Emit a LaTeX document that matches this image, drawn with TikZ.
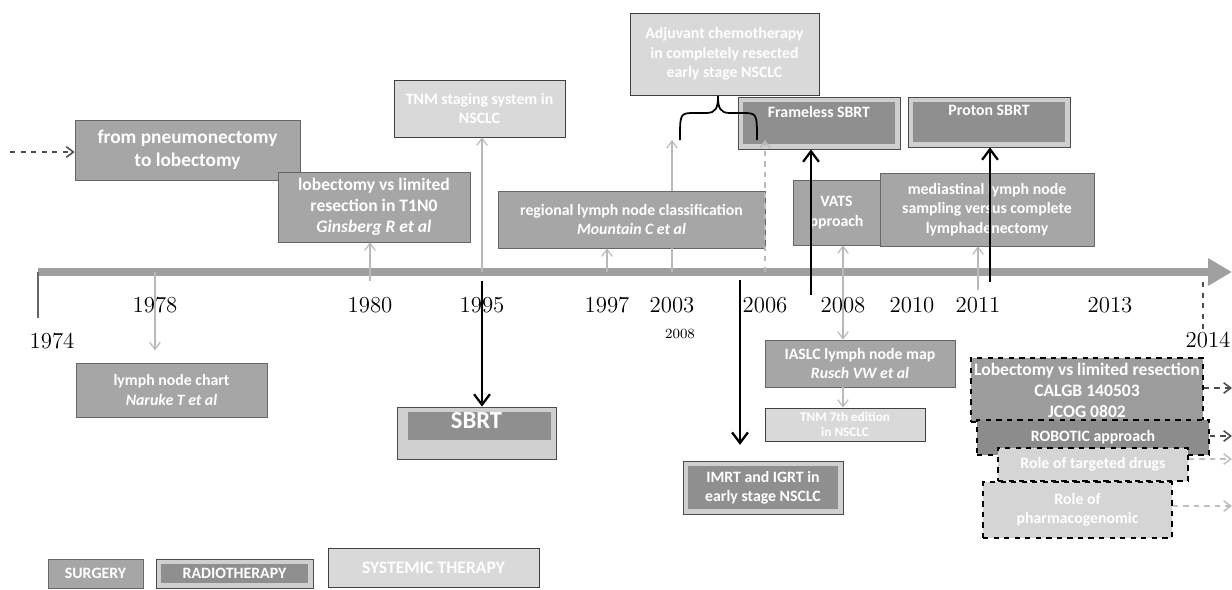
\documentclass[tikz,border=0pt]{standalone}
\usepackage{fontspec}
\newfontfamily\boxfont{Carlito}
\usetikzlibrary{arrows.meta,positioning}

\begin{document}
\begin{tikzpicture}[x=0.02cm,y=-0.02cm,>=Stealth,
  tbox/.style={text=white,font=\boxfont\bfseries\fontsize{9}{11}\selectfont,align=center,inner sep=1pt},
  big/.style 2 args={font=\boxfont\bfseries\fontsize{#1}{#2}\selectfont},
  surg/.style={tbox,draw=black!60,fill=gray!70},
  syst/.style={tbox,draw=black!75,fill=gray!30},
  radio/.style={tbox,draw=black!70,fill=gray!38,path picture={\fill[gray!88] ([shift={(3pt,3pt)}]path picture bounding box.south west) rectangle ([shift={(-3pt,-3pt)}]path picture bounding box.north east);}},
  trial/.style={tbox,draw=black,dashed,line width=0.9pt},
  yr/.style={font=\fontsize{13}{14}\selectfont},
  lgtline/.style={gray!55,line width=0.7pt},
  lgtarrow/.style={lgtline,-{Straight Barb[length=4pt,width=6pt]}},
  blkarrow/.style={black,line width=1.3pt,-{Straight Barb[length=6pt,width=9pt]}},
  outarrow/.style={dashed,line width=0.9pt,-{Straight Barb[length=4pt,width=6pt]}}
]
\useasboundingbox (0,0) rectangle (1232,589);

% timeline
\coordinate (tl0) at (38,272);
\coordinate (tl1) at (1232,272);
\draw[gray!75,line width=4.5pt,-{Triangle[length=0.48cm,width=0.52cm]}] (tl0) -- (tl1);
\draw[black!60,line width=1.2pt] (tl0) -- (38,318);
\draw[black!70,line width=1.2pt,dashed] (1203,282) -- (1203,330);
\foreach \yy/\xx in {1978/155,1980/370,1995/482,1997/607,2003/672,2006/765,2008/843,2010/912,2011/978,2013/1110}{
  \node[yr] (y\yy) at (\xx,305) {\yy};
  \coordinate (t\yy) at (\xx,272);
}
\node[yr] (y1974) at (52,341) {1974};
\node[yr] (y2014) at (1208,340) {2014};
\node[font=\fontsize{8}{9}\selectfont] (y2008b) at (680,334) {2008};

% boxes above the line
\node[surg,big={11}{13},minimum width=4.5cm,minimum height=1.2cm] (pneu) at (187.5,150) {from pneumonectomy\\to lobectomy};
\node[surg,big={10}{12},minimum width=3.84cm,minimum height=1.4cm] (ginsberg) at (374,207) {lobectomy vs limited\\resection in T1N0\\\textit{Ginsberg R et al}};
\node[syst,minimum width=3.42cm,minimum height=1.14cm] (tnm) at (479.5,108.5) {TNM staging system in\\NSCLC};
\node[surg,minimum width=5.34cm,minimum height=1.14cm] (mountain) at (631.5,219.5) {regional lymph node classification\\\textit{Mountain C et al}};
\node[syst,minimum width=3.78cm,minimum height=1.64cm] (adjuv) at (724.5,54) {Adjuvant chemotherapy\\in completely resected\\early stage NSCLC};
\node[radio,minimum width=3.24cm,minimum height=1.04cm] (frameless) at (819,123) {Frameless SBRT\\[2pt]~};
\node[radio,minimum width=3.24cm,minimum height=1.0cm] (proton) at (989,122) {Proton SBRT\\[2pt]~};
\node[surg,minimum width=1.74cm,minimum height=1.3cm] (vats) at (836.5,212.5) {VATS\\pproach};
\node[surg,minimum width=4.28cm,minimum height=1.46cm] (medias) at (987,209.5) {mediastinal lymph node\\sampling versus complete\\lymphadenectomy};

% boxes below the line
\node[surg,minimum width=3.82cm,minimum height=1.08cm] (naruke) at (171.5,390) {lymph node chart\\\textit{Naruke T et al}};
\node[tbox,big={14}{16},draw=black!70,fill=gray!38,minimum width=3.18cm,minimum height=1.04cm,text depth=14pt,
  path picture={\fill[gray!88] ([shift={(6pt,-3pt)}]path picture bounding box.north west) rectangle ([shift={(-3pt,-4pt)}]path picture bounding box.east);}] (sbrt) at (476.5,433) {SBRT};
\node[radio,minimum width=3.2cm,minimum height=1.06cm] (imrt) at (763,487.5) {IMRT and IGRT in\\early stage NSCLC};
\node[surg,minimum width=3.8cm,minimum height=0.94cm] (iaslc) at (860,363.5) {IASLC lymph node map\\\textit{Rusch VW et al}};
\node[syst,big={7.5}{8.5},minimum width=3.2cm,minimum height=0.66cm] (tnm7) at (845,424.5) {TNM 7th edition\\in NSCLC};

% ongoing trials
\node[trial,big={10}{12},fill=gray!78,minimum width=4.64cm,minimum height=1.28cm] (lobtrial) at (1087,390) {Lobectomy vs limited resection\\CALGB 140503\\JCOG 0802};
\node[trial,fill=gray!90,minimum width=4.64cm,minimum height=0.7cm] (robotic) at (1093,437.5) {ROBOTIC approach};
\node[trial,fill=gray!33,minimum width=3.8cm,minimum height=0.66cm] (targeted) at (1093,464.5) {Role of targeted drugs};
\node[trial,fill=gray!33,minimum width=3.78cm,minimum height=1.12cm] (pharma) at (1077.5,510) {Role of\\pharmacogenomic};

% legend
\node[surg,minimum width=1.9cm,minimum height=0.58cm] (lgsurg) at (95.5,573.5) {SURGERY};
\node[radio,minimum width=3.14cm,minimum height=0.58cm] (lgradio) at (234.5,573.5) {RADIOTHERAPY};
\node[syst,big={10}{12},minimum width=4.22cm,minimum height=0.78cm] (lgsyst) at (433.5,567.5) {SYSTEMIC THERAPY};

% brace under the adjuvant box
\coordinate (brl) at (680,140);
\coordinate (brr) at (757,140);
\coordinate (brt) at (718,96);
\draw[black,line width=1pt] (brl) .. controls (680,113) and (680,113) .. (695,113) -- (706,113) .. controls (716,113) and (718,108) .. (brt) .. controls (718,108) and (720,113) .. (730,113) -- (742,113) .. controls (757,113) and (757,113) .. (brr);

% connectors
\coordinate (pneuin) at (10,152);
\draw[outarrow,black!70] (pneuin) -- (pneu.west |- pneuin);
\draw[lgtarrow,shorten >=7pt] (t1978) -- (t1978 |- naruke.north);
\draw[lgtarrow] ([yshift=-5pt]t1980) -- (t1980 |- ginsberg.south);
\draw[lgtarrow] (t1995) -- (t1995 |- tnm.south);
\draw[blkarrow] ([yshift=-5pt]t1995) -- (t1995 |- sbrt.north);
\draw[lgtarrow] (t1997) -- (t1997 |- mountain.south);
\draw[lgtline] (t2003) -- (t2003 |- mountain.south);
\draw[lgtarrow] (t2003 |- mountain.north) -- (t2003 |- brl);
\draw[lgtarrow,dashed] (t2006) -- (t2006 |- brr);
\coordinate (t2006b) at (740,280);
\draw[blkarrow,shorten >=9pt] (t2006b) -- (t2006b |- imrt.north);
\coordinate (t2007) at (811,295);
\draw[blkarrow] (t2007) -- (t2007 |- frameless.south);
\draw[lgtline,{Straight Barb[length=4pt,width=6pt]}-{Straight Barb[length=4pt,width=6pt]}] (vats.south -| t2008) -- (iaslc.north -| t2008);
\draw[lgtarrow] (iaslc.south -| t2008) -- (tnm7.north -| t2008);
\draw[lgtarrow] ([yshift=-10pt]t2011) -- (t2011 |- medias.south);
\coordinate (t2011b) at (990,282);
\draw[blkarrow] (t2011b) -- (t2011b |- proton.south);

% arrows leaving the trials
\coordinate (outlob) at (1232,388);
\coordinate (outrob) at (1232,436);
\coordinate (outtar) at (1232,459);
\coordinate (outpha) at (1232,506);
\draw[outarrow,black!70] (lobtrial.east |- outlob) -- (outlob);
\draw[outarrow,black!70] (robotic.east |- outrob) -- (outrob);
\draw[outarrow,gray!50] (targeted.east |- outtar) -- (outtar);
\draw[outarrow,gray!50] (pharma.east |- outpha) -- (outpha);
\end{tikzpicture}
\end{document}
